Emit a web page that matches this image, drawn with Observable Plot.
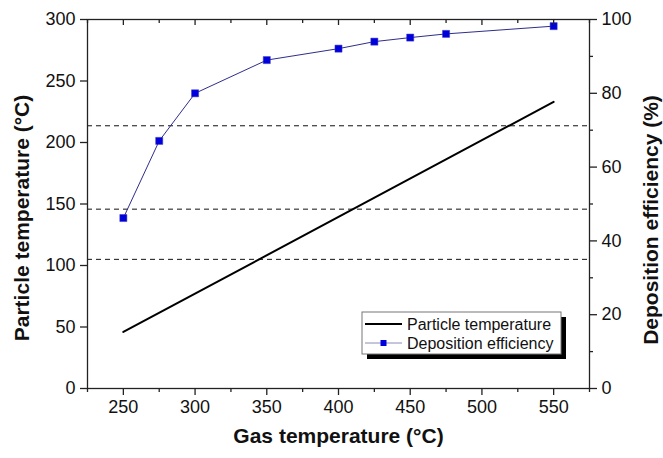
<!DOCTYPE html>
<html><head><meta charset="utf-8">
<script src="https://cdn.jsdelivr.net/npm/d3@7"></script>
<script src="https://cdn.jsdelivr.net/npm/@observablehq/plot@0.6"></script>
<style>
html,body{margin:0;padding:0;background:#fff;}
#chart svg{display:block;font-family:"Liberation Sans",Arial,sans-serif;background:#fff;}
</style></head><body><div id="chart"></div>
<script>
// Data
const gasTemp = [250, 275, 300, 350, 400, 425, 450, 475, 550];
const depositionEfficiency = [46.2, 67.1, 80.0, 89.0, 92.1, 94.0, 95.1, 96.1, 98.2];
const particleGasTemp = [250, 550];
const particleTemp = [46, 233];
const dashedLevels = [35.0, 48.6, 71.2]; // on the efficiency axis (%)
const xMajorTicks = [250, 300, 350, 400, 450, 500, 550];
const xMinorTicks = [225, 275, 325, 375, 425, 475, 525, 575];
const yLeftTicks = [0, 50, 100, 150, 200, 250, 300];
const yRightTicks = [0, 20, 40, 60, 80, 100];
const yRightMinor = [10, 30, 50, 70, 90];
const xTitle = "Gas temperature (°C)";
const yLeftTitle = "Particle temperature (°C)";
const yRightTitle = "Deposition efficiency (%)";
const seriesNames = ["Particle temperature", "Deposition efficiency"];

const effScale = 3; // 100 % on the right axis = 300 °C on the left axis
const effData = gasTemp.map((g, i) => ({gas: g, eff: depositionEfficiency[i]}));
const particleData = particleGasTemp.map((g, i) => ({gas: g, temp: particleTemp[i]}));

const W = 663, H = 458;
const mL = 87, mR = 74, mT = 19, mB = 70;
const frameH = H - mT - mB;
const frameW = W - mL - mR;

const lineColor = "#2e2e8c";
const markerFill = "#0000dd";
const axisStroke = {stroke: "#222", strokeWidth: 1.3};

function legend(index, scales, values, dims) {
  const right = dims.width - dims.marginRight;
  const bottom = dims.height - dims.marginBottom;
  const bw = 199, bh = 42;
  const x0 = right - 28 - bw, y0 = bottom - 34 - bh;
  const g = d3.create("svg:g");
  g.append("rect").attr("x", x0 + 5).attr("y", y0 + 5).attr("width", bw).attr("height", bh).attr("fill", "#000");
  g.append("rect").attr("x", x0).attr("y", y0).attr("width", bw).attr("height", bh)
    .attr("fill", "#fff").attr("stroke", "#777").attr("stroke-width", 1);
  const rows = [y0 + 12, y0 + 31];
  g.append("line").attr("x1", x0 + 3).attr("x2", x0 + 40).attr("y1", rows[0]).attr("y2", rows[0])
    .attr("stroke", "#000").attr("stroke-width", 2);
  g.append("line").attr("x1", x0 + 3).attr("x2", x0 + 40).attr("y1", rows[1]).attr("y2", rows[1])
    .attr("stroke", "#8a8ab8").attr("stroke-width", 1);
  g.append("rect").attr("x", x0 + 18.5).attr("y", rows[1] - 3).attr("width", 6).attr("height", 6)
    .attr("fill", markerFill);
  seriesNames.forEach((s, i) => {
    g.append("text").attr("x", x0 + 45).attr("y", rows[i]).attr("dy", "0.35em")
      .attr("text-anchor", "start").attr("font-size", 16).attr("fill", "#111").text(s);
  });
  return g.node();
}

const chart = Plot.plot({
  width: W, height: H,
  marginLeft: mL, marginRight: mR, marginTop: mT, marginBottom: mB,
  style: {fontFamily: '"Liberation Sans", Arial, sans-serif', background: "#fff", color: "#111"},
  x: {domain: [225, 575], label: null},
  y: {domain: [0, 300], label: null},
  marks: [
    Plot.ruleY(dashedLevels, {y: d => d * effScale, stroke: "#111", strokeWidth: 1, strokeDasharray: "5,4"}),
    Plot.line(particleData, {x: "gas", y: "temp", stroke: "#000", strokeWidth: 2}),
    Plot.line(effData, {x: "gas", y: d => d.eff * effScale, stroke: lineColor, strokeWidth: 1}),
    Plot.dot(effData, {x: "gas", y: d => d.eff * effScale, symbol: "square", r: 4, fill: markerFill, stroke: "#3b3bc0", strokeWidth: 0.5}),
    Plot.frame(axisStroke),
    // left axis
    Plot.axisY(yLeftTicks, {anchor: "left", tickSize: 7, tickPadding: 5, fontSize: 18, label: null, ...axisStroke}),
    // right axis
    Plot.axisY(yRightTicks.map(v => v * effScale), {anchor: "right", tickSize: 7, tickPadding: 5, fontSize: 18, label: null,
      tickFormat: d => String(Math.round(d / effScale)), ...axisStroke}),
    Plot.ruleY(yRightMinor.map(v => v * effScale), {y: d => d, insetLeft: frameW - 4, dx: 4, ...axisStroke}),
    // bottom axis
    Plot.axisX(xMajorTicks, {anchor: "bottom", tickSize: 7, tickPadding: 5, fontSize: 18, label: null, ...axisStroke}),
    Plot.ruleX(xMinorTicks, {x: d => d, insetTop: frameH - 4, dy: 4, ...axisStroke}),
    // top axis ticks (inward)
    Plot.ruleX(xMajorTicks, {x: d => d, insetBottom: frameH - 6, ...axisStroke}),
    Plot.ruleX(xMinorTicks, {x: d => d, insetBottom: frameH - 4, ...axisStroke}),
    // titles
    Plot.text([xTitle], {frameAnchor: "bottom", dy: 54, text: d => d, textAnchor: "middle", fontSize: 21, fontWeight: "bold", fill: "#111"}),
    Plot.text([yLeftTitle], {frameAnchor: "left", dx: -65, dy: 14, rotate: -90, textAnchor: "middle", text: d => d, fontSize: 21, fontWeight: "bold", fill: "#111"}),
    Plot.text([yRightTitle], {frameAnchor: "right", dx: 62, dy: 16, rotate: -90, textAnchor: "middle", text: d => d, fontSize: 21, fontWeight: "bold", fill: "#111"}),
    legend
  ]
});
document.getElementById("chart").appendChild(chart);
</script>
</body></html>
